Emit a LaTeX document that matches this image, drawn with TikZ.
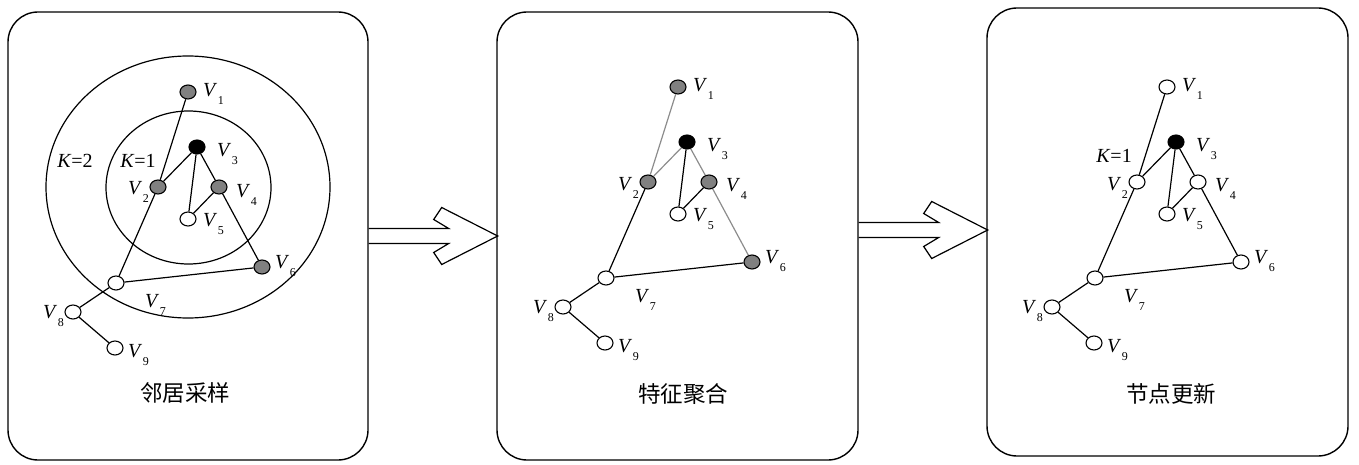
\documentclass[tikz,border=0pt]{standalone}
\usepackage{fontspec}
\setmainfont{Liberation Serif}
\newfontfamily\cjk{Noto Sans CJK SC}
\usetikzlibrary{shapes.geometric,calc}
\definecolor{nodegray}{gray}{0.5}
\definecolor{edgegray}{gray}{0.55}
\newcommand{\vl}[1]{\textit{V}\kern0.5pt\raisebox{-8pt}{\fontsize{12}{12}\selectfont #1}}
\tikzset{
  vx/.style={draw, ellipse, line width=1.1pt, fill=white, minimum width=16pt, minimum height=14pt, inner sep=0pt},
  edge/.style={line width=1.2pt},
  lab/.style={anchor=base west, inner sep=0pt, font=\fontsize{20}{22}\selectfont},
  klab/.style={inner sep=0pt, font=\fontsize{20}{22}\selectfont},
  panel/.style={draw, line width=1.4pt, rounded corners=30pt, inner sep=0pt},
  title/.style={inner sep=0pt, font=\cjk\fontsize{22.5}{24}\selectfont},
  ring/.style={line width=1.2pt},
  bigarrow/.style={draw, line width=1.2pt, line join=miter}
}
\newcommand{\gpanel}[5]{%
\begin{scope}[shift={(#2,#3)}]
  \node[vx,fill=#4] (#1v1) at (188,92) {};
  \node[vx,fill=black] (#1v3) at (197,147) {};
  \node[vx,fill=#4] (#1v2) at (158,187) {};
  \node[vx,fill=#4] (#1v4) at (219,187) {};
  \node[vx] (#1v5) at (188,219) {};
  \node[vx,fill=#4] (#1v6) at (262,267) {};
  \node[vx] (#1v7) at (116,283) {};
  \node[vx] (#1v8) at (73,312) {};
  \node[vx] (#1v9) at (115,348) {};
  \node[lab] (#1l1) at (203,97) {\vl{1}};
  \node[lab] (#1l3) at (217,157) {\vl{3}};
  \node[lab] (#1l2) at (128,195) {\vl{2}};
  \node[lab] (#1l4) at (236,197) {\vl{4}};
  \node[lab] (#1l5) at (203,226) {\vl{5}};
  \node[lab] (#1l6) at (275,268) {\vl{6}};
  \node[lab] (#1l7) at (145,307) {\vl{7}};
  \node[lab] (#1l8) at (43,318) {\vl{8}};
  \node[lab] (#1l9) at (128,357) {\vl{9}};
  \draw[edge,#5] (#1v1) -- (#1v2);
  \draw[edge,#5] (#1v2) -- (#1v3);
  \draw[edge,#5] (#1v3) -- (#1v4);
  \draw[edge,#5] (#1v4) -- (#1v6);
  \draw[edge] (#1v3) -- (#1v5);
  \draw[edge] (#1v4) -- (#1v5);
  \draw[edge] (#1v2) -- (#1v7);
  \draw[edge] (#1v7) -- (#1v6);
  \draw[edge] (#1v7) -- (#1v8);
  \draw[edge] (#1v8) -- (#1v9);
\end{scope}}
\begin{document}
\begin{tikzpicture}[x=1pt,y=-1pt]
\useasboundingbox (0,0) rectangle (1359,465);
% panels
\node[panel, minimum width=360pt, minimum height=448pt] (p1) at (188,236) {};
\node[panel, minimum width=361pt, minimum height=448pt] (p2) at (677.5,236) {};
\node[panel, minimum width=361pt, minimum height=448pt] (p3) at (1167.5,232) {};
% rings in panel 1
\draw[ring] (188,187) ellipse [x radius=142, y radius=131];
\draw[ring] (188.5,187.5) ellipse [x radius=82.5, y radius=76.5];
\node[klab] (k2) at (75,161) {\textit{K}=2};
\node[klab] (k1) at (138,161) {\textit{K}=1};
% graphs
\gpanel{a}{0}{0}{nodegray}{black}
\gpanel{b}{490}{-5}{nodegray}{edgegray}
\gpanel{c}{979}{-5}{white}{black}
\node[klab] (k3) at (1114,156) {\textit{K}=1};
% titles
\node[title] (t1) at (185,393) {邻居采样};
\node[title] (t2) at (683,394) {特征聚合};
\node[title] (t3) at (1171,394) {节点更新};
% arrows
\draw[bigarrow] (p1.east) ++(0,-7.5) -- ++(80,0) -- ++(-15,-9) -- ++(8,-12) -- ++(56,28.5) -- ++(-56,28.5) -- ++(-8,-12) -- ++(15,-9) -- ++(-80,0);
\draw[bigarrow] ($(p2.east)+(0,-6)$) ++(0,-7.5) -- ++(80,0) -- ++(-15,-9) -- ++(8,-12) -- ++(56,28.5) -- ++(-56,28.5) -- ++(-8,-12) -- ++(15,-9) -- ++(-80,0);
\end{tikzpicture}
\end{document}
